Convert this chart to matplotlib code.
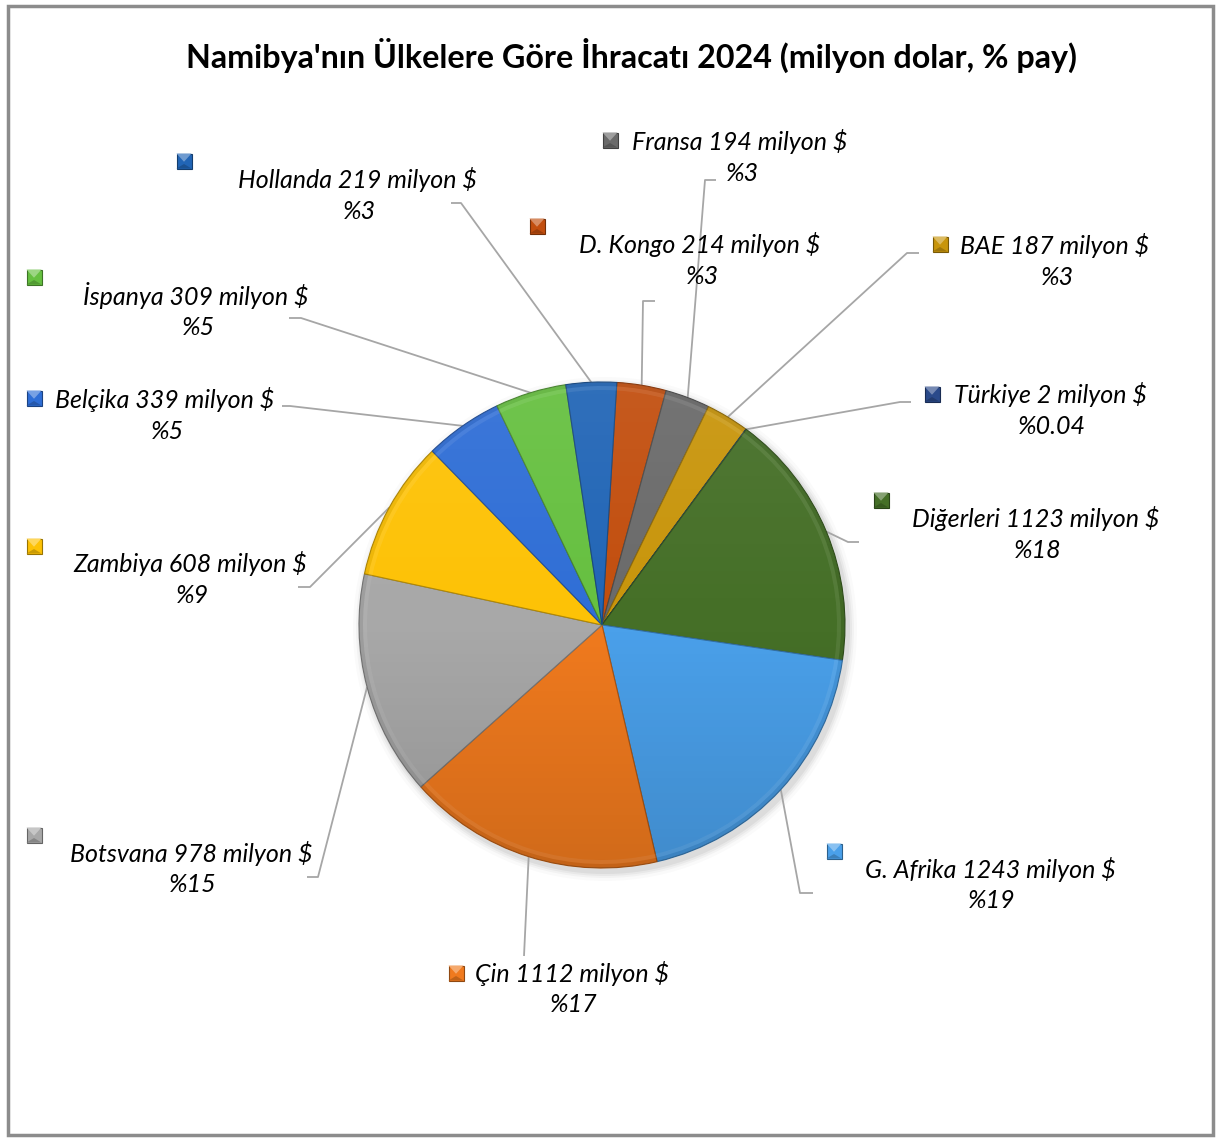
import matplotlib
matplotlib.use("Agg")
import matplotlib.pyplot as plt
from matplotlib.patches import Rectangle, Polygon, Circle, Wedge
from matplotlib.colors import to_rgb
import numpy as np

W, H = 1219, 1138

# ---------------- data ----------------
title = "Namibya'nın Ülkelere Göre İhracatı 2024 (milyon dolar, % pay)"
countries = ["D. Kongo", "Fransa", "BAE", "Türkiye", "Diğerleri", "G. Afrika",
             "Çin", "Botsvana", "Zambiya", "Belçika", "İspanya", "Hollanda"]
values = [214, 194, 187, 2, 1123, 1243, 1112, 978, 608, 339, 309, 219]
pct_labels = ["%3", "%3", "%3", "%0.04", "%18", "%19", "%17", "%15", "%9", "%5", "%5", "%3"]
colors = ["#C24E0E", "#6A6A6A", "#C8950B", "#2A4A8A", "#456F27", "#4AA0EA",
          "#F07A1E", "#A8A8A8", "#FDC206", "#2F6ED6", "#66C040", "#2165B6"]

# ---------------- layout (pixel coordinates, y downward) ----------------
label_pos = [(700, 244), (740, 141), (1055, 245), (1050, 394), (1036, 518), (990, 869),
             (572, 973), (191, 853), (190, 563), (165, 399), (196, 295), (357, 179)]
key_pos = [(537, 226), (610, 140), (940, 244), (932, 394), (881, 500), (834, 851),
           (456, 973), (34, 835), (34, 546), (34, 398), (34, 277), (184, 161)]
leader_elbow = [(643, 301), (705, 180), (907, 253), (900, 402), (848, 542), (800, 893),
                (524, 956), (318, 877), (310, 587), (290, 406), (301, 318), (461, 203)]
leader_tail = [(655, 301), (716, 180), (919, 253), (911, 402), (859, 542), (813, 893),
               (524, 956), (307, 877), (298, 587), (282, 406), (289, 318), (451, 203)]

PIE_CX, PIE_CY, PIE_R = 602, 625, 243
FONT = "Lato"


def Y(py):
    return H - py


def shade(c, f):
    r, g, b = to_rgb(c)
    if f < 0:
        return (r * (1 + f), g * (1 + f), b * (1 + f))
    return (r + (1 - r) * f, g + (1 - g) * f, b + (1 - b) * f)


fig = plt.figure(figsize=(W / 100, H / 100), dpi=100)
ax = fig.add_axes([0, 0, 1, 1])

cx, cy, R = PIE_CX, Y(PIE_CY), PIE_R

# soft shadow
for dr, a in [(9, 0.02), (6, 0.03), (4, 0.04), (2, 0.05)]:
    ax.add_patch(Circle((cx + 3, cy - 4), R + dr, facecolor="black", alpha=a, lw=0, zorder=1))

wedges, _ = ax.pie(values, colors=colors, startangle=86.5, counterclock=False,
                   center=(cx, cy), radius=R, frame=True,
                   wedgeprops=dict(linewidth=0.8))
for w, c in zip(wedges, colors):
    w.set_edgecolor(shade(c, -0.3))
    w.set_zorder(2)
    ax.add_patch(Wedge((cx, cy), R, w.theta1, w.theta2, width=4,
                       facecolor="black", alpha=0.06, lw=0, zorder=3))
    ax.add_patch(Wedge((cx, cy), R - 4, w.theta1, w.theta2, width=4,
                       facecolor="white", alpha=0.08, lw=0, zorder=3))

# vertical light gradient over the pie
t = np.linspace(0, 1, 256)
grad = np.zeros((256, 1, 4))
top = t < 0.5
grad[top, 0, :3] = 1.0
grad[top, 0, 3] = (0.5 - t[top]) * 0.14
grad[~top, 0, :3] = 0.0
grad[~top, 0, 3] = (t[~top] - 0.5) * 0.26
im = ax.imshow(grad, extent=(cx - R, cx + R, cy - R, cy + R), origin="upper",
               aspect="auto", zorder=4, interpolation="bilinear")
clip = Circle((cx, cy), R, transform=ax.transData)
im.set_clip_path(clip)

# leader lines
for w, el, tl in zip(wedges, leader_elbow, leader_tail):
    mid = np.deg2rad((w.theta1 + w.theta2) / 2)
    ex, ey = cx + R * np.cos(mid), cy + R * np.sin(mid)
    ax.plot([ex, el[0], tl[0]], [ey, Y(el[1]), Y(tl[1])], color="#A6A6A6",
            lw=1.3, zorder=1.5, solid_capstyle="butt")

ax.set_xlim(0, W)
ax.set_ylim(0, H)
ax.set_aspect("equal")
ax.axis("off")

# fit font sizes
fig.canvas.draw()
renderer = fig.canvas.get_renderer()
tt = ax.text(0, 0, title, fontsize=20, fontfamily=FONT, fontweight="bold")
tw = tt.get_window_extent(renderer).width
tt.remove()
title_fs = 20 * 890 / tw
lt = ax.text(0, 0, "G. Afrika 1243 milyon $", fontsize=16, fontfamily=FONT, style="italic")
lw_ = lt.get_window_extent(renderer).width
lt.remove()
label_fs = 16 * 251 / lw_

ax.text(632, Y(55), title, fontsize=title_fs, fontfamily=FONT, fontweight="bold",
        ha="center", va="center", color="black")

for name, v, p, c, (lx, ly), (kx, ky) in zip(countries, values, pct_labels, colors,
                                             label_pos, key_pos):
    ax.text(lx, Y(ly), f"{name} {v} milyon $", fontsize=label_fs, fontfamily=FONT,
            style="italic", ha="center", va="center", color="black", zorder=6)
    ax.text(lx + 2, Y(ly + 32), p, fontsize=label_fs, fontfamily=FONT,
            style="italic", ha="center", va="center", color="black", zorder=6)
    s = 15
    x0, y0 = kx - s / 2, Y(ky) - s / 2
    ax.add_patch(Rectangle((x0, y0), s, s, facecolor=c, edgecolor=shade(c, -0.4),
                           lw=0.8, zorder=6))
    ax.add_patch(Polygon([(x0, y0 + s), (x0 + s, y0 + s), (x0 + s / 2, y0 + s * 0.45)],
                         closed=True, facecolor=shade(c, 0.35), lw=0, zorder=7))
    ax.add_patch(Polygon([(x0, y0), (x0 + s, y0), (x0 + s / 2, y0 + s * 0.3)],
                         closed=True, facecolor=shade(c, -0.2), lw=0, zorder=7))

# chart border
ax.add_patch(Rectangle((8, Y(1135)), 1205, 1129, facecolor="none", edgecolor="#8C8C8C",
                       lw=2.5, zorder=8))

fig.savefig("out.png", dpi=100)
